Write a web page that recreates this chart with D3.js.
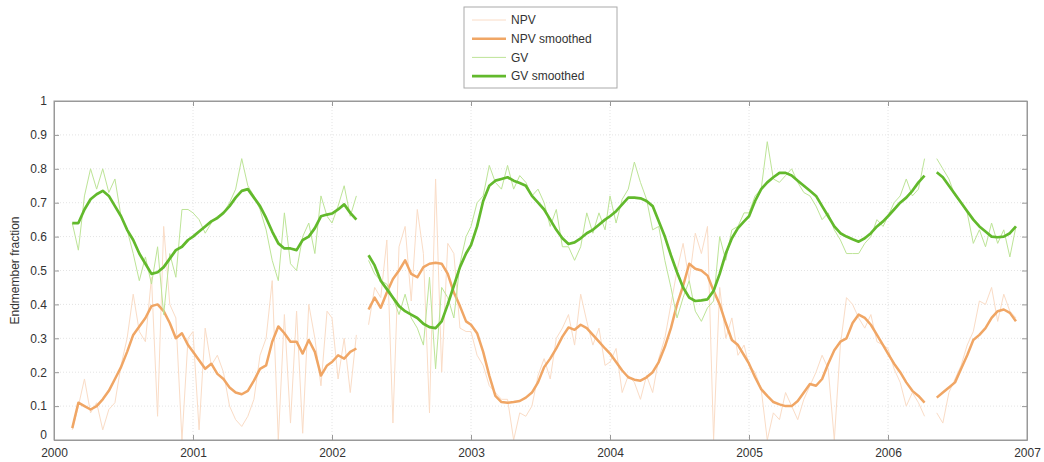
<!DOCTYPE html>
<html>
<head>
<meta charset="utf-8">
<script src="https://cdn.jsdelivr.net/npm/d3@7"></script>
<style>
  body { margin: 0; background: #fff; }
  svg { font-family: "Liberation Sans", Arial, sans-serif; }
  .tick text { fill: #333; font-size: 12px; }
</style>
</head>
<body>
<div id="chart"></div>
<script>
(function () {
  // years shown and the 16-day composite start days within a year
  const YEARS = [2000, 2001, 2002, 2003, 2004, 2005, 2006];
  const COMPOSITE_DOY = [1, 17, 33, 49, 65, 81, 97, 113, 129, 145, 161, 177,
    193, 209, 225, 241, 257, 273, 289, 305, 321, 337, 353];
  const X_TICKS = [2000, 2001, 2002, 2003, 2004, 2005, 2006, 2007];
  const Y_TICKS = [0, 0.1, 0.2, 0.3, 0.4, 0.5, 0.6, 0.7, 0.8, 0.9, 1];

  // one row per year, 23 composites each (null = no data)
  const NPV = [
    null, null, null, 0.03, 0.10, 0.18, 0.08, 0.11, 0.03, 0.09, 0.11, 0.22, 0.30, 0.43, 0.32, 0.29, 0.48, 0.07, 0.63, 0.40, 0.36, 0.0, 0.30,
    0.32, 0.03, 0.33, 0.22, 0.25, 0.20, 0.10, 0.06, 0.04, 0.07, 0.12, 0.25, 0.30, 0.47, 0.0, 0.37, 0.05, 0.38, 0.02, 0.40, 0.30, 0.16, 0.38,
    0.36, 0.18, 0.30, 0.14, 0.31, null, 0.34, 0.45, 0.42, 0.59, 0.05, 0.57, 0.63, 0.41, 0.68, 0.55, 0.08, 0.77, 0.20, 0.58, 0.55, 0.33, 0.32,
    0.32, 0.25, 0.22, 0.16, 0.14, 0.12, 0.12, 0.0, 0.08, 0.07, 0.10, 0.19, 0.24, 0.18, 0.30, 0.33, 0.37, 0.28, 0.43, 0.35, 0.28, 0.33, 0.22,
    0.23, 0.27, 0.14, 0.19, 0.17, 0.12, 0.19, 0.14, 0.24, 0.30, 0.40, 0.50, 0.58, 0.47, 0.61, 0.55, 0.63, 0.0, 0.45, 0.30, 0.36, 0.25, 0.28,
    0.22, 0.20, 0.15, 0.0, 0.08, 0.06, 0.14, 0.10, 0.06, 0.12, 0.16, 0.20, 0.25, 0.21, 0.0, 0.28, 0.42, 0.40, 0.36, 0.33, 0.37, 0.29, 0.28,
    0.27, 0.21, 0.17, 0.10, 0.14, 0.11, 0.07, null, 0.08, 0.05, 0.14, 0.18, 0.22, 0.28, 0.32, 0.41, 0.40, 0.45, 0.35, 0.43, 0.38, 0.36, null,
  ];
  const NPV_SMOOTH = [
    null, null, null, 0.035, 0.11, 0.10, 0.09, 0.10, 0.12, 0.145, 0.18, 0.215, 0.26, 0.31, 0.335, 0.36, 0.395, 0.40, 0.38, 0.345, 0.30, 0.315, 0.28,
    0.26, 0.235, 0.21, 0.225, 0.195, 0.18, 0.155, 0.14, 0.135, 0.145, 0.175, 0.21, 0.22, 0.29, 0.335, 0.315, 0.29, 0.29, 0.255, 0.295, 0.26, 0.19, 0.22,
    0.23, 0.25, 0.24, 0.26, 0.27, null, 0.385, 0.42, 0.39, 0.435, 0.475, 0.50, 0.53, 0.49, 0.48, 0.51, 0.52, 0.523, 0.52, 0.49, 0.435, 0.395, 0.35,
    0.34, 0.315, 0.26, 0.19, 0.13, 0.112, 0.11, 0.112, 0.115, 0.125, 0.14, 0.17, 0.215, 0.24, 0.27, 0.305, 0.332, 0.325, 0.34, 0.33, 0.31, 0.29, 0.27,
    0.255, 0.23, 0.205, 0.185, 0.178, 0.175, 0.185, 0.20, 0.23, 0.275, 0.33, 0.40, 0.455, 0.52, 0.505, 0.50, 0.485, 0.44, 0.40, 0.345, 0.295, 0.28, 0.25,
    0.225, 0.185, 0.15, 0.13, 0.112, 0.105, 0.10, 0.10, 0.115, 0.14, 0.165, 0.16, 0.18, 0.225, 0.265, 0.29, 0.30, 0.345, 0.37, 0.36, 0.34, 0.31, 0.28,
    0.255, 0.225, 0.20, 0.17, 0.145, 0.13, 0.11, null, 0.125, 0.14, 0.155, 0.17, 0.21, 0.25, 0.295, 0.31, 0.33, 0.36, 0.38, 0.385, 0.375, 0.35, null,
  ];
  const GV = [
    null, null, null, 0.64, 0.56, 0.72, 0.80, 0.74, 0.80, 0.73, 0.77, 0.66, 0.62, 0.55, 0.47, 0.54, 0.46, 0.57, 0.37, 0.55, 0.48, 0.68, 0.68,
    0.67, 0.65, 0.61, 0.64, 0.66, 0.67, 0.70, 0.74, 0.83, 0.75, 0.72, 0.68, 0.62, 0.53, 0.47, 0.67, 0.52, 0.50, 0.60, 0.64, 0.55, 0.72, 0.66,
    0.64, 0.69, 0.75, 0.66, 0.72, null, 0.53, 0.49, 0.47, 0.46, 0.42, 0.37, 0.43, 0.36, 0.33, 0.28, 0.48, 0.21, 0.45, 0.42, 0.36, 0.52, 0.60,
    0.63, 0.70, 0.72, 0.81, 0.76, 0.74, 0.81, 0.74, 0.78, 0.76, 0.72, 0.74, 0.70, 0.63, 0.68, 0.57, 0.57, 0.53, 0.57, 0.67, 0.61, 0.67, 0.62,
    0.72, 0.64, 0.71, 0.74, 0.82, 0.76, 0.71, 0.62, 0.63, 0.53, 0.45, 0.36, 0.42, 0.47, 0.38, 0.35, 0.39, 0.41, 0.60, 0.53, 0.62, 0.63, 0.67,
    0.67, 0.72, 0.74, 0.88, 0.77, 0.76, 0.78, 0.80, 0.76, 0.73, 0.72, 0.69, 0.65, 0.67, 0.62, 0.59, 0.55, 0.55, 0.55, 0.58, 0.60, 0.65, 0.63,
    0.66, 0.70, 0.72, 0.77, 0.72, 0.74, 0.83, null, 0.83, 0.80, 0.77, 0.72, 0.70, 0.67, 0.58, 0.62, 0.57, 0.64, 0.58, 0.62, 0.54, 0.63, null,
  ];
  const GV_SMOOTH = [
    null, null, null, 0.64, 0.64, 0.68, 0.71, 0.725, 0.735, 0.72, 0.69, 0.66, 0.62, 0.59, 0.55, 0.52, 0.49, 0.495, 0.51, 0.535, 0.56, 0.57, 0.59,
    0.60, 0.615, 0.63, 0.645, 0.655, 0.67, 0.69, 0.715, 0.735, 0.74, 0.715, 0.69, 0.655, 0.615, 0.58, 0.565, 0.565, 0.56, 0.59, 0.60, 0.625, 0.66, 0.665,
    0.668, 0.68, 0.695, 0.67, 0.65, null, 0.545, 0.515, 0.47, 0.445, 0.42, 0.395, 0.38, 0.37, 0.36, 0.343, 0.333, 0.33, 0.35, 0.40, 0.455, 0.51, 0.55,
    0.575, 0.63, 0.705, 0.75, 0.765, 0.77, 0.775, 0.765, 0.758, 0.75, 0.72, 0.70, 0.68, 0.65, 0.62, 0.595, 0.578, 0.583, 0.595, 0.61, 0.62, 0.635, 0.65,
    0.66, 0.675, 0.695, 0.715, 0.715, 0.713, 0.705, 0.69, 0.645, 0.60, 0.545, 0.495, 0.45, 0.42, 0.41, 0.412, 0.415, 0.44, 0.49, 0.55, 0.595, 0.625, 0.645,
    0.66, 0.705, 0.74, 0.76, 0.775, 0.788, 0.788, 0.78, 0.765, 0.75, 0.735, 0.72, 0.69, 0.66, 0.63, 0.61, 0.60, 0.592, 0.585, 0.595, 0.61, 0.63, 0.645,
    0.66, 0.68, 0.70, 0.715, 0.735, 0.76, 0.78, null, 0.79, 0.775, 0.75, 0.725, 0.70, 0.675, 0.65, 0.63, 0.615, 0.60, 0.598, 0.60, 0.61, 0.63, null,
  ];

  const SERIES = [
    { name: "NPV", values: NPV, color: "#fadcc6", width: 1 },
    { name: "NPV smoothed", values: NPV_SMOOTH, color: "#f0a665", width: 2.5 },
    { name: "GV", values: GV, color: "#bde497", width: 1 },
    { name: "GV smoothed", values: GV_SMOOTH, color: "#62b92c", width: 2.7 },
  ];

  const W = 1044;
  const H = 462;
  const margin = { top: 101, right: 17, bottom: 22, left: 54 };
  const width = W - margin.left - margin.right;
  const height = H - margin.top - margin.bottom;

  // decimal year of every composite
  const dates = [];
  YEARS.forEach((y) => COMPOSITE_DOY.forEach((doy) => dates.push(y + (doy - 1) / 365)));

  const svg = d3
    .select("#chart")
    .append("svg")
    .attr("width", W)
    .attr("height", H);

  const g = svg
    .append("g")
    .attr("transform", `translate(${margin.left}, ${margin.top})`);

  const x = d3.scaleLinear().domain([2000, 2007]).range([0, width]);
  const y = d3.scaleLinear().domain([0, 1]).range([height, 0]);

  // dotted grid
  g.append("g")
    .selectAll("line")
    .data(Y_TICKS.slice(1, -1))
    .join("line")
    .attr("x1", 0)
    .attr("x2", width)
    .attr("y1", (d) => y(d))
    .attr("y2", (d) => y(d))
    .style("stroke", "#e4e4e4")
    .style("stroke-dasharray", "1,2");
  g.append("g")
    .selectAll("line")
    .data(X_TICKS.slice(1, -1))
    .join("line")
    .attr("x1", (d) => x(d))
    .attr("x2", (d) => x(d))
    .attr("y1", 0)
    .attr("y2", height)
    .style("stroke", "#e4e4e4")
    .style("stroke-dasharray", "1,2");

  // data lines
  SERIES.forEach((s) => {
    const line = d3
      .line()
      .defined((d) => d != null)
      .x((d, i) => x(dates[i]))
      .y((d) => y(d));
    g.append("path")
      .datum(s.values)
      .attr("d", line)
      .style("fill", "none")
      .style("stroke", s.color)
      .style("stroke-width", s.width)
      .style("stroke-linejoin", "round");
  });

  // axes, matlab style: ticks pointing inward on all sides
  const axisColor = "#999";
  const xAxis = g
    .append("g")
    .attr("transform", `translate(0, ${height})`)
    .call(d3.axisBottom(x).tickValues(X_TICKS).tickFormat(d3.format("d")).tickSizeInner(-5).tickSizeOuter(0).tickPadding(6));
  const yAxis = g
    .append("g")
    .call(d3.axisLeft(y).tickValues(Y_TICKS).tickFormat((d) => d3.format("")(d)).tickSizeInner(-5).tickSizeOuter(0).tickPadding(7));
  g.append("g")
    .attr("transform", `translate(${width}, 0)`)
    .call(d3.axisRight(y).tickValues(Y_TICKS).tickSizeInner(-5).tickSizeOuter(0).tickFormat(""));
  g.append("g")
    .call(d3.axisTop(x).tickValues(X_TICKS).tickSizeInner(-5).tickSizeOuter(0).tickFormat(""));
  g.selectAll(".domain, .tick line").style("stroke", axisColor);
  xAxis.selectAll(".tick text").attr("dy", "0.9em");
  // matlab nudges the zero label up a bit
  yAxis.selectAll(".tick text").filter((d) => d === 0).attr("dy", "-0.1em");

  g.append("rect")
    .attr("width", width)
    .attr("height", height)
    .style("fill", "none")
    .style("stroke", axisColor);

  // y label
  svg
    .append("text")
    .attr("transform", `translate(19, ${margin.top + height / 2}) rotate(-90)`)
    .attr("text-anchor", "middle")
    .style("font-size", "12px")
    .style("fill", "#333")
    .text("Endmember fraction");

  // legend
  const legend = svg.append("g").attr("transform", "translate(464, 7)");
  legend
    .append("rect")
    .attr("width", 153)
    .attr("height", 81)
    .style("fill", "#fff")
    .style("stroke", "#aaa");
  const entry = legend
    .selectAll("g.entry")
    .data(SERIES)
    .join("g")
    .attr("class", "entry")
    .attr("transform", (d, i) => `translate(0, ${13 + i * 18.7})`);
  entry
    .append("line")
    .attr("x1", 8)
    .attr("x2", 42)
    .style("stroke", (d) => d.color)
    .style("stroke-width", (d) => d.width);
  entry
    .append("text")
    .attr("x", 47)
    .attr("dy", "0.35em")
    .style("font-size", "12px")
    .style("fill", "#333")
    .text((d) => d.name);
})();
</script>
</body>
</html>
